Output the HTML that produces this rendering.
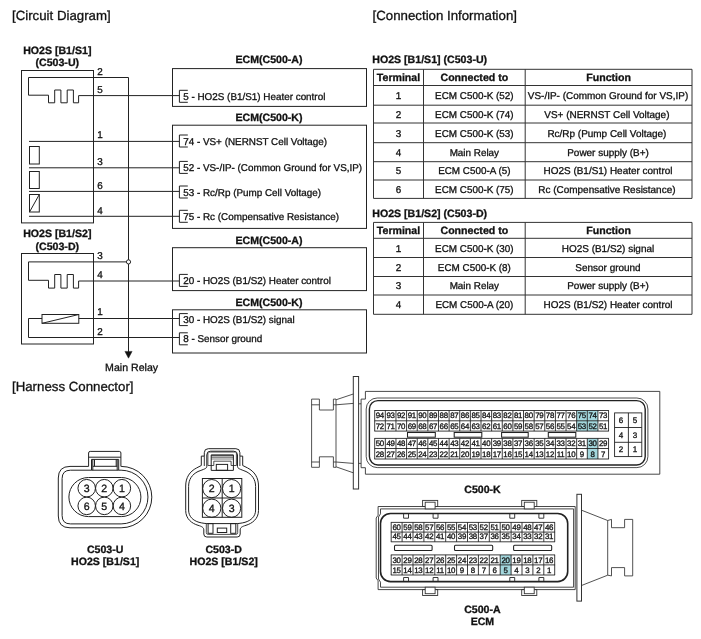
<!DOCTYPE html>
<html><head><meta charset="utf-8"><title>HO2S Circuit</title>
<style>
html,body{margin:0;padding:0;background:#fff;}
svg{display:block;will-change:transform;text-rendering:geometricPrecision;font-family:"Liberation Sans",Arial,sans-serif;fill:#111;}
svg text{stroke:#111;stroke-width:0.3px;}
</style></head><body>
<svg width="701" height="639" viewBox="0 0 701 639">
<rect x="0" y="0" width="701" height="639" fill="#fff" stroke="none"/>
<text x="12" y="20.3" font-size="13.25">[Circuit Diagram]</text>
<text x="372.6" y="20.3" font-size="13.25">[Connection Information]</text>
<text x="12" y="391" font-size="13.25">[Harness Connector]</text>
<text x="57.3" y="53.9" font-size="10.6" font-weight="bold" text-anchor="middle">HO2S [B1/S1]</text>
<text x="57.3" y="66.3" font-size="10.6" font-weight="bold" text-anchor="middle">(C503-U)</text>
<rect x="21.50" y="70.50" width="72.00" height="152.40" fill="none" stroke="#222" stroke-width="1"/>
<path d="M128.5,77.5 H28.5" fill="none" stroke="#222" stroke-width="1"/>
<path d="M28.5,77.5 V95.2 H48.5 V102.8 H54.7 V90 H60.9 V102.8 H67.2 V90 H73.4 V102.8 H78.6 V95.6 H179.4" fill="none" stroke="#222" stroke-width="1"/>
<text x="97.2" y="75.2" font-size="9.88">2</text>
<text x="97.2" y="92.8" font-size="9.88">5</text>
<text x="97.2" y="138" font-size="9.88">1</text>
<text x="97.2" y="164.8" font-size="9.88">3</text>
<text x="97.2" y="188.6" font-size="9.88">6</text>
<text x="97.2" y="213.9" font-size="9.88">4</text>
<line x1="29" y1="141.4" x2="179.5" y2="141.4" stroke="#222" stroke-width="1"/>
<line x1="29" y1="167.8" x2="179.5" y2="167.8" stroke="#222" stroke-width="1"/>
<line x1="29" y1="191.4" x2="179.5" y2="191.4" stroke="#222" stroke-width="1"/>
<line x1="29" y1="216.3" x2="179.5" y2="216.3" stroke="#222" stroke-width="1"/>
<rect x="29.50" y="146.50" width="9.80" height="17.50" fill="none" stroke="#222" stroke-width="1"/>
<rect x="29.50" y="171.50" width="9.80" height="17.00" fill="none" stroke="#222" stroke-width="1"/>
<rect x="29.50" y="194.50" width="9.80" height="17.50" fill="none" stroke="#222" stroke-width="1"/>
<line x1="29.5" y1="212" x2="39.3" y2="194.5" stroke="#222" stroke-width="1"/>
<line x1="128.5" y1="77.5" x2="128.5" y2="352" stroke="#222" stroke-width="1"/>
<path d="M124.9,351.4 H132.1 L128.5,358.2 Z" fill="#111" stroke="#222" stroke-width="0.5"/>
<text x="131.6" y="370.6" font-size="10.6" text-anchor="middle">Main Relay</text>
<text x="57.3" y="237.4" font-size="10.6" font-weight="bold" text-anchor="middle">HO2S [B1/S2]</text>
<text x="57.3" y="249.8" font-size="10.6" font-weight="bold" text-anchor="middle">(C503-D)</text>
<rect x="21.50" y="253.50" width="72.00" height="90.50" fill="none" stroke="#222" stroke-width="1"/>
<path d="M126.5,261.9 H28.5" fill="none" stroke="#222" stroke-width="1"/>
<path d="M28.5,261.9 V280.3 H48.5 V288.1 H54.7 V274.5 H60.9 V288.1 H67.2 V274.5 H73.4 V288.1 H78.6 V281 H179.4" fill="none" stroke="#222" stroke-width="1"/>
<circle cx="128.5" cy="261.9" r="2.1" fill="#fff" stroke="#222" stroke-width="1"/>
<text x="97.2" y="259" font-size="9.88">3</text>
<text x="97.2" y="278" font-size="9.88">4</text>
<text x="97.2" y="315.2" font-size="9.88">1</text>
<text x="97.2" y="334.6" font-size="9.88">2</text>
<rect x="42.00" y="314.50" width="36.80" height="8.80" fill="none" stroke="#222" stroke-width="1"/>
<line x1="42" y1="323.3" x2="78.8" y2="314.5" stroke="#222" stroke-width="1"/>
<path d="M42,318.5 H28.5 V337.5 H179.5" fill="none" stroke="#222" stroke-width="1"/>
<line x1="78.8" y1="318.5" x2="179.5" y2="318.5" stroke="#222" stroke-width="1"/>
<text x="269" y="63" font-size="10.6" font-weight="bold" text-anchor="middle">ECM(C500-A)</text>
<rect x="172.50" y="68.60" width="194.00" height="37.80" fill="none" stroke="#222" stroke-width="1"/>
<path d="M187.8,90.3 H179.4 V102.3 H187.8" fill="none" stroke="#222" stroke-width="1"/>
<text x="183.2" y="99.8" font-size="9.88">5 - HO2S (B1/S1) Heater control</text>
<text x="269" y="121.3" font-size="10.6" font-weight="bold" text-anchor="middle">ECM(C500-K)</text>
<rect x="172.50" y="125.20" width="194.00" height="103.20" fill="none" stroke="#222" stroke-width="1"/>
<path d="M187.8,135 H179.4 V147 H187.8" fill="none" stroke="#222" stroke-width="1"/>
<text x="183.2" y="144.5" font-size="9.88">74 - VS+ (NERNST Cell Voltage)</text>
<path d="M187.8,161.4 H179.4 V173.4 H187.8" fill="none" stroke="#222" stroke-width="1"/>
<text x="183.2" y="170.9" font-size="9.88">52 - VS-/IP- (Common Ground for VS,IP)</text>
<path d="M187.8,186 H179.4 V198 H187.8" fill="none" stroke="#222" stroke-width="1"/>
<text x="183.2" y="195.5" font-size="9.88">53 - Rc/Rp (Pump Cell Voltage)</text>
<path d="M187.8,210.3 H179.4 V222.3 H187.8" fill="none" stroke="#222" stroke-width="1"/>
<text x="183.2" y="219.8" font-size="9.88">75 - Rc (Compensative Resistance)</text>
<text x="269" y="243.6" font-size="10.6" font-weight="bold" text-anchor="middle">ECM(C500-A)</text>
<rect x="172.50" y="247.70" width="194.00" height="42.90" fill="none" stroke="#222" stroke-width="1"/>
<path d="M187.8,274.4 H179.4 V286.4 H187.8" fill="none" stroke="#222" stroke-width="1"/>
<text x="183.2" y="283.9" font-size="9.88">20 - HO2S (B1/S2) Heater control</text>
<text x="269" y="305.8" font-size="10.6" font-weight="bold" text-anchor="middle">ECM(C500-K)</text>
<rect x="172.50" y="309.80" width="194.00" height="43.20" fill="none" stroke="#222" stroke-width="1"/>
<path d="M187.8,313.6 H179.4 V325.6 H187.8" fill="none" stroke="#222" stroke-width="1"/>
<text x="183.2" y="323.1" font-size="9.88">30 - HO2S (B1/S2) signal</text>
<path d="M187.8,332.8 H179.4 V344.8 H187.8" fill="none" stroke="#222" stroke-width="1"/>
<text x="183.2" y="342.3" font-size="9.88">8 - Sensor ground</text>
<text x="372.3" y="62.8" font-size="10.6" font-weight="bold">HO2S [B1/S1] (C503-U)</text>
<line x1="373.5" y1="69.3" x2="692" y2="69.3" stroke="#333" stroke-width="1"/>
<line x1="373.5" y1="85.5" x2="692" y2="85.5" stroke="#333" stroke-width="1"/>
<line x1="373.5" y1="105.2" x2="692" y2="105.2" stroke="#333" stroke-width="1"/>
<line x1="373.5" y1="123" x2="692" y2="123" stroke="#333" stroke-width="1"/>
<line x1="373.5" y1="142.7" x2="692" y2="142.7" stroke="#333" stroke-width="1"/>
<line x1="373.5" y1="161.7" x2="692" y2="161.7" stroke="#333" stroke-width="1"/>
<line x1="373.5" y1="180" x2="692" y2="180" stroke="#333" stroke-width="1"/>
<line x1="373.5" y1="198.4" x2="692" y2="198.4" stroke="#333" stroke-width="1"/>
<line x1="373.5" y1="69.3" x2="373.5" y2="198.4" stroke="#333" stroke-width="1"/>
<line x1="423.5" y1="69.3" x2="423.5" y2="198.4" stroke="#333" stroke-width="1"/>
<line x1="525.2" y1="69.3" x2="525.2" y2="198.4" stroke="#333" stroke-width="1"/>
<line x1="692" y1="69.3" x2="692" y2="198.4" stroke="#333" stroke-width="1"/>
<text x="398.5" y="81.2" font-size="10.6" font-weight="bold" text-anchor="middle">Terminal</text>
<text x="474.35" y="81.2" font-size="10.6" font-weight="bold" text-anchor="middle">Connected to</text>
<text x="608.6" y="81.2" font-size="10.6" font-weight="bold" text-anchor="middle">Function</text>
<text x="398.5" y="98.55" font-size="9.88" text-anchor="middle">1</text>
<text x="474.35" y="98.55" font-size="9.88" text-anchor="middle">ECM C500-K (52)</text>
<text x="608.0" y="98.55" font-size="9.96" text-anchor="middle">VS-/IP- (Common Ground for VS,IP)</text>
<text x="398.5" y="117.7" font-size="9.88" text-anchor="middle">2</text>
<text x="474.35" y="117.7" font-size="9.88" text-anchor="middle">ECM C500-K (74)</text>
<text x="606.9" y="117.7" font-size="9.96" text-anchor="middle">VS+ (NERNST Cell Voltage)</text>
<text x="398.5" y="137.15" font-size="9.88" text-anchor="middle">3</text>
<text x="474.35" y="137.15" font-size="9.88" text-anchor="middle">ECM C500-K (53)</text>
<text x="606.9" y="137.15" font-size="9.96" text-anchor="middle">Rc/Rp (Pump Cell Voltage)</text>
<text x="398.5" y="155.8" font-size="9.88" text-anchor="middle">4</text>
<text x="474.35" y="155.8" font-size="9.88" text-anchor="middle">Main Relay</text>
<text x="608.0" y="155.8" font-size="9.96" text-anchor="middle">Power supply (B+)</text>
<text x="398.5" y="174.45" font-size="9.88" text-anchor="middle">5</text>
<text x="474.35" y="174.45" font-size="9.88" text-anchor="middle">ECM C500-A (5)</text>
<text x="608.0" y="174.45" font-size="9.96" text-anchor="middle">HO2S (B1/S1) Heater control</text>
<text x="398.5" y="192.8" font-size="9.88" text-anchor="middle">6</text>
<text x="474.35" y="192.8" font-size="9.88" text-anchor="middle">ECM C500-K (75)</text>
<text x="606.9" y="192.8" font-size="9.96" text-anchor="middle">Rc (Compensative Resistance)</text>
<text x="372.3" y="217.1" font-size="10.6" font-weight="bold">HO2S [B1/S2] (C503-D)</text>
<line x1="373.5" y1="222.4" x2="692" y2="222.4" stroke="#333" stroke-width="1"/>
<line x1="373.5" y1="238.3" x2="692" y2="238.3" stroke="#333" stroke-width="1"/>
<line x1="373.5" y1="257.5" x2="692" y2="257.5" stroke="#333" stroke-width="1"/>
<line x1="373.5" y1="276.5" x2="692" y2="276.5" stroke="#333" stroke-width="1"/>
<line x1="373.5" y1="295" x2="692" y2="295" stroke="#333" stroke-width="1"/>
<line x1="373.5" y1="314.3" x2="692" y2="314.3" stroke="#333" stroke-width="1"/>
<line x1="373.5" y1="222.4" x2="373.5" y2="314.3" stroke="#333" stroke-width="1"/>
<line x1="423.5" y1="222.4" x2="423.5" y2="314.3" stroke="#333" stroke-width="1"/>
<line x1="525.2" y1="222.4" x2="525.2" y2="314.3" stroke="#333" stroke-width="1"/>
<line x1="692" y1="222.4" x2="692" y2="314.3" stroke="#333" stroke-width="1"/>
<text x="398.5" y="234.15000000000003" font-size="10.6" font-weight="bold" text-anchor="middle">Terminal</text>
<text x="474.35" y="234.15000000000003" font-size="10.6" font-weight="bold" text-anchor="middle">Connected to</text>
<text x="608.6" y="234.15000000000003" font-size="10.6" font-weight="bold" text-anchor="middle">Function</text>
<text x="398.5" y="251.5" font-size="9.88" text-anchor="middle">1</text>
<text x="474.35" y="251.5" font-size="9.88" text-anchor="middle">ECM C500-K (30)</text>
<text x="608.0" y="251.5" font-size="9.96" text-anchor="middle">HO2S (B1/S2) signal</text>
<text x="398.5" y="270.6" font-size="9.88" text-anchor="middle">2</text>
<text x="474.35" y="270.6" font-size="9.88" text-anchor="middle">ECM C500-K (8)</text>
<text x="608.0" y="270.6" font-size="9.96" text-anchor="middle">Sensor ground</text>
<text x="398.5" y="289.35" font-size="9.88" text-anchor="middle">3</text>
<text x="474.35" y="289.35" font-size="9.88" text-anchor="middle">Main Relay</text>
<text x="608.0" y="289.35" font-size="9.96" text-anchor="middle">Power supply (B+)</text>
<text x="398.5" y="308.25" font-size="9.88" text-anchor="middle">4</text>
<text x="474.35" y="308.25" font-size="9.88" text-anchor="middle">ECM C500-A (20)</text>
<text x="608.0" y="308.25" font-size="9.96" text-anchor="middle">HO2S (B1/S2) Heater control</text>
<path d="M70,466.4 H88.6 V453 Q88.6,451.4 90.2,451.4 H119.3 Q120.9,451.4 120.9,453 V466.4 H121.1 A30.7,30.7 0 0 1 121.1,527.8 H70 Q58.3,527.8 58.3,516 V478 Q58.3,466.4 70,466.4 Z" fill="none" stroke="#222" stroke-width="1"/>
<path d="M91.5,470.2 H70.5 Q62.1,470.2 62.1,478.6 V515.5 Q62.1,523.9 70.5,523.9 H121.1 A26.85,26.85 0 0 0 121.1,470.2 H118.7" fill="none" stroke="#222" stroke-width="1"/>
<line x1="88.6" y1="457.2" x2="120.9" y2="457.2" stroke="#222" stroke-width="1"/>
<path d="M91.5,470.2 V459.4 H118.7 V470.2 Z" fill="none" stroke="#222" stroke-width="1"/>
<path d="M92.8,470.2 V459.4 M117.2,459.4 V470.2" fill="none" stroke="#222" stroke-width="1"/>
<path d="M94.5,459.5 V466.3 M116.2,459.5 V466.3 M92.8,466.3 H117.2" fill="none" stroke="#222" stroke-width="1"/>
<rect x="68.90" y="477.50" width="72.00" height="39.10" fill="none" stroke="#222" stroke-width="1" rx="19.55"/>
<circle cx="86.7" cy="488.2" r="8.75" fill="none" stroke="#222" stroke-width="1"/>
<circle cx="86.7" cy="505.9" r="8.75" fill="none" stroke="#222" stroke-width="1"/>
<text x="86.7" y="492" font-size="10.6" text-anchor="middle">3</text>
<text x="86.7" y="509.7" font-size="10.6" text-anchor="middle">6</text>
<circle cx="104.30000000000001" cy="488.2" r="8.75" fill="none" stroke="#222" stroke-width="1"/>
<circle cx="104.30000000000001" cy="505.9" r="8.75" fill="none" stroke="#222" stroke-width="1"/>
<text x="104.30000000000001" y="492" font-size="10.6" text-anchor="middle">2</text>
<text x="104.30000000000001" y="509.7" font-size="10.6" text-anchor="middle">5</text>
<circle cx="121.9" cy="488.2" r="8.75" fill="none" stroke="#222" stroke-width="1"/>
<circle cx="121.9" cy="505.9" r="8.75" fill="none" stroke="#222" stroke-width="1"/>
<text x="121.9" y="492" font-size="10.6" text-anchor="middle">1</text>
<text x="121.9" y="509.7" font-size="10.6" text-anchor="middle">4</text>
<text x="105.2" y="552.8" font-size="10.6" font-weight="bold" text-anchor="middle">C503-U</text>
<text x="105.2" y="565.4" font-size="10.6" font-weight="bold" text-anchor="middle">HO2S [B1/S1]</text>
<path d="M204.3,452.7 Q204.3,448.7 208.3,448.7 H235.9 Q239.9,448.7 239.9,452.7 V456.1 H242.7 V465.5 L247.5,467.9 C254.5,471.5 258.5,477.5 258.5,486 V510.5 C258.5,519 252,523.5 246,525.3 C242,526.5 240.2,527.5 240.2,530 V534 Q240.2,537 237.2,537 H206.8 Q203.8,537 203.8,534 V530 C203.8,527.5 202,526.5 198,525.3 C192,523.5 185.7,519 185.7,510.5 V486 C185.7,477.5 189.7,471.5 196.7,467.9 L201.3,465.5 V456.1 H204.3 Z" fill="none" stroke="#222" stroke-width="1"/>
<path d="M206.8,455 Q206.8,451.2 210.5,451.2 H233.7 Q237.5,451.2 237.5,455 V466.5 C237.5,468.5 240,469.2 246,471.5 C252,474.5 255.6,479.5 255.6,486.5 V510 C255.6,516.5 251,520.5 245,522.3 C241,523.3 238.5,523.6 236,523.6 H208 C205.5,523.6 203,523.3 199,522.3 C193,520.5 188.6,516.5 188.6,510 V486.5 C188.6,479.5 192,474.5 198,471.5 C204,469.2 206.8,468.5 206.8,466.5 Z" fill="none" stroke="#222" stroke-width="1"/>
<path d="M208.5,452 H235.8" fill="none" stroke="#222" stroke-width="0.8"/>
<path d="M204.3,456.1 V466 M239.9,456.1 V466" fill="none" stroke="#222" stroke-width="0.9"/>
<path d="M207.9,453 V465.5 H213.8 V461.2 H231.1 V465.5 H236.4 V453" fill="none" stroke="#222" stroke-width="0.8"/>
<path d="M211.2,470.4 V454.9 H233.4 V470.4 Z" fill="none" stroke="#222" stroke-width="1"/>
<path d="M211.2,455.8 H233.4" fill="none" stroke="#222" stroke-width="1"/>
<path d="M211.2,457.4 H233.4 M211.2,459 H233.4" fill="none" stroke="#222" stroke-width="0.6"/>
<rect x="216.30" y="464.40" width="11.30" height="5.90" fill="none" stroke="#222" stroke-width="1"/>
<rect x="208.10" y="523.60" width="4.90" height="9.70" fill="none" stroke="#222" stroke-width="1"/>
<rect x="230.70" y="523.60" width="5.10" height="9.70" fill="none" stroke="#222" stroke-width="1"/>
<path d="M206.3,524 V532.5 Q206.3,534.4 208.1,534.4 H235.9 Q237.7,534.4 237.7,532.5 V524" fill="none" stroke="#222" stroke-width="0.8"/>
<rect x="217.30" y="528.10" width="9.40" height="4.40" fill="none" stroke="#222" stroke-width="1"/>
<rect x="202.40" y="478.50" width="39.40" height="38.80" fill="none" stroke="#222" stroke-width="1"/>
<line x1="222.2" y1="478.5" x2="222.2" y2="517.3" stroke="#222" stroke-width="1"/>
<line x1="202.4" y1="498" x2="241.8" y2="498" stroke="#222" stroke-width="1"/>
<circle cx="211.8" cy="488.6" r="9.1" fill="none" stroke="#222" stroke-width="1"/>
<text x="211.8" y="492.40000000000003" font-size="10.6" text-anchor="middle">2</text>
<circle cx="231.6" cy="488.6" r="9.1" fill="none" stroke="#222" stroke-width="1"/>
<text x="231.6" y="492.40000000000003" font-size="10.6" text-anchor="middle">1</text>
<circle cx="211.8" cy="508.2" r="9.1" fill="none" stroke="#222" stroke-width="1"/>
<text x="211.8" y="512.0" font-size="10.6" text-anchor="middle">4</text>
<circle cx="231.6" cy="508.2" r="9.1" fill="none" stroke="#222" stroke-width="1"/>
<text x="231.6" y="512.0" font-size="10.6" text-anchor="middle">3</text>
<text x="223.7" y="552.8" font-size="10.6" font-weight="bold" text-anchor="middle">C503-D</text>
<text x="223.7" y="565.4" font-size="10.6" font-weight="bold" text-anchor="middle">HO2S [B1/S2]</text>
<rect x="353.30" y="376.50" width="5.30" height="112.50" fill="none" stroke="#333" stroke-width="1"/>
<path d="M311.6,399.1 H319.4 V410 H333.4 V399.1 H336 V404.8 L353.3,403.4 M336,399.8 L353.3,394 M311.6,399.1 V467.3 H319.4 V456.8 H333.4 V467.3 H336 V462 L353.3,463.4 M336,466.8 L353.3,472.8 M311.6,404.8 H319.4 M311.6,462 H319.4 M333.4,404.8 H336 M333.4,462 H336 M336,404.8 V462" fill="none" stroke="#333" stroke-width="0.85"/>
<path d="M358.6,403.8 H361.1 M358.6,463.4 H361.1" fill="none" stroke="#333" stroke-width="0.85"/>
<path d="M365.4,391.4 H659.8 V474.2 H365.4 V467.7 H361.1 V399.1 H365.4 Z" fill="none" stroke="#333" stroke-width="0.9"/>
<rect x="366.20" y="398.00" width="281.70" height="69.60" fill="none" stroke="#222" stroke-width="0.8" rx="11"/>
<rect x="369.40" y="400.60" width="275.80" height="64.40" fill="none" stroke="#222" stroke-width="1.4" rx="8.5"/>
<rect x="576.67" y="410.5" width="10.63" height="10.30" fill="#a3d7dd" stroke="none"/>
<rect x="587.30" y="410.5" width="10.63" height="10.30" fill="#a3d7dd" stroke="none"/>
<rect x="576.67" y="420.8" width="10.63" height="10.30" fill="#a3d7dd" stroke="none"/>
<rect x="587.30" y="420.8" width="10.63" height="10.30" fill="#a3d7dd" stroke="none"/>
<rect x="587.30" y="438.4" width="10.63" height="10.10" fill="#a3d7dd" stroke="none"/>
<rect x="587.30" y="448.5" width="10.63" height="10.50" fill="#a3d7dd" stroke="none"/>
<path d="M374.70,410.5 V420.8 M385.33,410.5 V420.8 M395.96,410.5 V420.8 M406.59,410.5 V420.8 M417.22,410.5 V420.8 M427.85,410.5 V420.8 M438.48,410.5 V420.8 M449.11,410.5 V420.8 M459.74,410.5 V420.8 M470.37,410.5 V420.8 M481.00,410.5 V420.8 M491.63,410.5 V420.8 M502.26,410.5 V420.8 M512.89,410.5 V420.8 M523.52,410.5 V420.8 M534.15,410.5 V420.8 M544.78,410.5 V420.8 M555.41,410.5 V420.8 M566.04,410.5 V420.8 M576.67,410.5 V420.8 M587.30,410.5 V420.8 M597.93,410.5 V420.8 M608.56,410.5 V420.8 M374.70,420.8 V431.1 M385.33,420.8 V431.1 M395.96,420.8 V431.1 M406.59,420.8 V431.1 M417.22,420.8 V431.1 M427.85,420.8 V431.1 M438.48,420.8 V431.1 M449.11,420.8 V431.1 M459.74,420.8 V431.1 M470.37,420.8 V431.1 M481.00,420.8 V431.1 M491.63,420.8 V431.1 M502.26,420.8 V431.1 M512.89,420.8 V431.1 M523.52,420.8 V431.1 M534.15,420.8 V431.1 M544.78,420.8 V431.1 M555.41,420.8 V431.1 M566.04,420.8 V431.1 M576.67,420.8 V431.1 M587.30,420.8 V431.1 M597.93,420.8 V431.1 M608.56,420.8 V431.1 M374.70,438.4 V448.5 M385.33,438.4 V448.5 M395.96,438.4 V448.5 M406.59,438.4 V448.5 M417.22,438.4 V448.5 M427.85,438.4 V448.5 M438.48,438.4 V448.5 M449.11,438.4 V448.5 M459.74,438.4 V448.5 M470.37,438.4 V448.5 M481.00,438.4 V448.5 M491.63,438.4 V448.5 M502.26,438.4 V448.5 M512.89,438.4 V448.5 M523.52,438.4 V448.5 M534.15,438.4 V448.5 M544.78,438.4 V448.5 M555.41,438.4 V448.5 M566.04,438.4 V448.5 M576.67,438.4 V448.5 M587.30,438.4 V448.5 M597.93,438.4 V448.5 M608.56,438.4 V448.5 M374.70,448.5 V459 M385.33,448.5 V459 M395.96,448.5 V459 M406.59,448.5 V459 M417.22,448.5 V459 M427.85,448.5 V459 M438.48,448.5 V459 M449.11,448.5 V459 M459.74,448.5 V459 M470.37,448.5 V459 M481.00,448.5 V459 M491.63,448.5 V459 M502.26,448.5 V459 M512.89,448.5 V459 M523.52,448.5 V459 M534.15,448.5 V459 M544.78,448.5 V459 M555.41,448.5 V459 M566.04,448.5 V459 M576.67,448.5 V459 M587.30,448.5 V459 M597.93,448.5 V459 M608.56,448.5 V459 M374.35,410.5 H608.91 M374.35,420.8 H608.91 M374.35,431.1 H608.91 M374.35,438.4 H608.91 M374.35,448.5 H608.91 M374.35,459 H608.91 " fill="none" stroke="#1a1a1a" stroke-width="0.85"/>
<text x="379.87" y="418.4" font-size="7.9" text-anchor="middle" letter-spacing="-0.3">94</text>
<text x="390.5" y="418.4" font-size="7.9" text-anchor="middle" letter-spacing="-0.3">93</text>
<text x="401.12" y="418.4" font-size="7.9" text-anchor="middle" letter-spacing="-0.3">92</text>
<text x="411.75" y="418.4" font-size="7.9" text-anchor="middle" letter-spacing="-0.3">91</text>
<text x="422.38" y="418.4" font-size="7.9" text-anchor="middle" letter-spacing="-0.3">90</text>
<text x="433.02" y="418.4" font-size="7.9" text-anchor="middle" letter-spacing="-0.3">89</text>
<text x="443.65" y="418.4" font-size="7.9" text-anchor="middle" letter-spacing="-0.3">88</text>
<text x="454.28" y="418.4" font-size="7.9" text-anchor="middle" letter-spacing="-0.3">87</text>
<text x="464.91" y="418.4" font-size="7.9" text-anchor="middle" letter-spacing="-0.3">86</text>
<text x="475.54" y="418.4" font-size="7.9" text-anchor="middle" letter-spacing="-0.3">85</text>
<text x="486.17" y="418.4" font-size="7.9" text-anchor="middle" letter-spacing="-0.3">84</text>
<text x="496.8" y="418.4" font-size="7.9" text-anchor="middle" letter-spacing="-0.3">83</text>
<text x="507.43" y="418.4" font-size="7.9" text-anchor="middle" letter-spacing="-0.3">82</text>
<text x="518.06" y="418.4" font-size="7.9" text-anchor="middle" letter-spacing="-0.3">81</text>
<text x="528.69" y="418.4" font-size="7.9" text-anchor="middle" letter-spacing="-0.3">80</text>
<text x="539.32" y="418.4" font-size="7.9" text-anchor="middle" letter-spacing="-0.3">79</text>
<text x="549.95" y="418.4" font-size="7.9" text-anchor="middle" letter-spacing="-0.3">78</text>
<text x="560.58" y="418.4" font-size="7.9" text-anchor="middle" letter-spacing="-0.3">77</text>
<text x="571.21" y="418.4" font-size="7.9" text-anchor="middle" letter-spacing="-0.3">76</text>
<text x="581.84" y="418.4" font-size="7.9" text-anchor="middle" letter-spacing="-0.3">75</text>
<text x="592.47" y="418.4" font-size="7.9" text-anchor="middle" letter-spacing="-0.3">74</text>
<text x="603.1" y="418.4" font-size="7.9" text-anchor="middle" letter-spacing="-0.3">73</text>
<text x="379.87" y="428.7" font-size="7.9" text-anchor="middle" letter-spacing="-0.3">72</text>
<text x="390.5" y="428.7" font-size="7.9" text-anchor="middle" letter-spacing="-0.3">71</text>
<text x="401.12" y="428.7" font-size="7.9" text-anchor="middle" letter-spacing="-0.3">70</text>
<text x="411.75" y="428.7" font-size="7.9" text-anchor="middle" letter-spacing="-0.3">69</text>
<text x="422.38" y="428.7" font-size="7.9" text-anchor="middle" letter-spacing="-0.3">68</text>
<text x="433.02" y="428.7" font-size="7.9" text-anchor="middle" letter-spacing="-0.3">67</text>
<text x="443.65" y="428.7" font-size="7.9" text-anchor="middle" letter-spacing="-0.3">66</text>
<text x="454.28" y="428.7" font-size="7.9" text-anchor="middle" letter-spacing="-0.3">65</text>
<text x="464.91" y="428.7" font-size="7.9" text-anchor="middle" letter-spacing="-0.3">64</text>
<text x="475.54" y="428.7" font-size="7.9" text-anchor="middle" letter-spacing="-0.3">63</text>
<text x="486.17" y="428.7" font-size="7.9" text-anchor="middle" letter-spacing="-0.3">62</text>
<text x="496.8" y="428.7" font-size="7.9" text-anchor="middle" letter-spacing="-0.3">61</text>
<text x="507.43" y="428.7" font-size="7.9" text-anchor="middle" letter-spacing="-0.3">60</text>
<text x="518.06" y="428.7" font-size="7.9" text-anchor="middle" letter-spacing="-0.3">59</text>
<text x="528.69" y="428.7" font-size="7.9" text-anchor="middle" letter-spacing="-0.3">58</text>
<text x="539.32" y="428.7" font-size="7.9" text-anchor="middle" letter-spacing="-0.3">57</text>
<text x="549.95" y="428.7" font-size="7.9" text-anchor="middle" letter-spacing="-0.3">56</text>
<text x="560.58" y="428.7" font-size="7.9" text-anchor="middle" letter-spacing="-0.3">55</text>
<text x="571.21" y="428.7" font-size="7.9" text-anchor="middle" letter-spacing="-0.3">54</text>
<text x="581.84" y="428.7" font-size="7.9" text-anchor="middle" letter-spacing="-0.3">53</text>
<text x="592.47" y="428.7" font-size="7.9" text-anchor="middle" letter-spacing="-0.3">52</text>
<text x="603.1" y="428.7" font-size="7.9" text-anchor="middle" letter-spacing="-0.3">51</text>
<text x="379.87" y="446.1" font-size="7.9" text-anchor="middle" letter-spacing="-0.3">50</text>
<text x="390.5" y="446.1" font-size="7.9" text-anchor="middle" letter-spacing="-0.3">49</text>
<text x="401.12" y="446.1" font-size="7.9" text-anchor="middle" letter-spacing="-0.3">48</text>
<text x="411.75" y="446.1" font-size="7.9" text-anchor="middle" letter-spacing="-0.3">47</text>
<text x="422.38" y="446.1" font-size="7.9" text-anchor="middle" letter-spacing="-0.3">46</text>
<text x="433.02" y="446.1" font-size="7.9" text-anchor="middle" letter-spacing="-0.3">45</text>
<text x="443.65" y="446.1" font-size="7.9" text-anchor="middle" letter-spacing="-0.3">44</text>
<text x="454.28" y="446.1" font-size="7.9" text-anchor="middle" letter-spacing="-0.3">43</text>
<text x="464.91" y="446.1" font-size="7.9" text-anchor="middle" letter-spacing="-0.3">42</text>
<text x="475.54" y="446.1" font-size="7.9" text-anchor="middle" letter-spacing="-0.3">41</text>
<text x="486.17" y="446.1" font-size="7.9" text-anchor="middle" letter-spacing="-0.3">40</text>
<text x="496.8" y="446.1" font-size="7.9" text-anchor="middle" letter-spacing="-0.3">39</text>
<text x="507.43" y="446.1" font-size="7.9" text-anchor="middle" letter-spacing="-0.3">38</text>
<text x="518.06" y="446.1" font-size="7.9" text-anchor="middle" letter-spacing="-0.3">37</text>
<text x="528.69" y="446.1" font-size="7.9" text-anchor="middle" letter-spacing="-0.3">36</text>
<text x="539.32" y="446.1" font-size="7.9" text-anchor="middle" letter-spacing="-0.3">35</text>
<text x="549.95" y="446.1" font-size="7.9" text-anchor="middle" letter-spacing="-0.3">34</text>
<text x="560.58" y="446.1" font-size="7.9" text-anchor="middle" letter-spacing="-0.3">33</text>
<text x="571.21" y="446.1" font-size="7.9" text-anchor="middle" letter-spacing="-0.3">32</text>
<text x="581.84" y="446.1" font-size="7.9" text-anchor="middle" letter-spacing="-0.3">31</text>
<text x="592.47" y="446.1" font-size="7.9" text-anchor="middle" letter-spacing="-0.3">30</text>
<text x="603.1" y="446.1" font-size="7.9" text-anchor="middle" letter-spacing="-0.3">29</text>
<text x="379.87" y="456.6" font-size="7.9" text-anchor="middle" letter-spacing="-0.3">28</text>
<text x="390.5" y="456.6" font-size="7.9" text-anchor="middle" letter-spacing="-0.3">27</text>
<text x="401.12" y="456.6" font-size="7.9" text-anchor="middle" letter-spacing="-0.3">26</text>
<text x="411.75" y="456.6" font-size="7.9" text-anchor="middle" letter-spacing="-0.3">25</text>
<text x="422.38" y="456.6" font-size="7.9" text-anchor="middle" letter-spacing="-0.3">24</text>
<text x="433.02" y="456.6" font-size="7.9" text-anchor="middle" letter-spacing="-0.3">23</text>
<text x="443.65" y="456.6" font-size="7.9" text-anchor="middle" letter-spacing="-0.3">22</text>
<text x="454.28" y="456.6" font-size="7.9" text-anchor="middle" letter-spacing="-0.3">21</text>
<text x="464.91" y="456.6" font-size="7.9" text-anchor="middle" letter-spacing="-0.3">20</text>
<text x="475.54" y="456.6" font-size="7.9" text-anchor="middle" letter-spacing="-0.3">19</text>
<text x="486.17" y="456.6" font-size="7.9" text-anchor="middle" letter-spacing="-0.3">18</text>
<text x="496.8" y="456.6" font-size="7.9" text-anchor="middle" letter-spacing="-0.3">17</text>
<text x="507.43" y="456.6" font-size="7.9" text-anchor="middle" letter-spacing="-0.3">16</text>
<text x="518.06" y="456.6" font-size="7.9" text-anchor="middle" letter-spacing="-0.3">15</text>
<text x="528.69" y="456.6" font-size="7.9" text-anchor="middle" letter-spacing="-0.3">14</text>
<text x="539.32" y="456.6" font-size="7.9" text-anchor="middle" letter-spacing="-0.3">13</text>
<text x="549.95" y="456.6" font-size="7.9" text-anchor="middle" letter-spacing="-0.3">12</text>
<text x="560.58" y="456.6" font-size="7.9" text-anchor="middle" letter-spacing="-0.3">11</text>
<text x="571.21" y="456.6" font-size="7.9" text-anchor="middle" letter-spacing="-0.3">10</text>
<text x="581.99" y="456.6" font-size="7.9" text-anchor="middle">9</text>
<text x="592.62" y="456.6" font-size="7.9" text-anchor="middle">8</text>
<text x="603.25" y="456.6" font-size="7.9" text-anchor="middle">7</text>
<rect x="407.50" y="432.50" width="27.80" height="4.70" fill="#fff" stroke="#222" stroke-width="1.05"/>
<rect x="454.20" y="432.50" width="27.60" height="4.70" fill="#fff" stroke="#222" stroke-width="1.05"/>
<rect x="501.60" y="432.50" width="26.60" height="4.70" fill="#fff" stroke="#222" stroke-width="1.05"/>
<rect x="548.30" y="432.50" width="27.50" height="4.70" fill="#fff" stroke="#222" stroke-width="1.05"/>
<rect x="614.60" y="412.90" width="27.20" height="43.70" fill="none" stroke="#222" stroke-width="0.9"/>
<path d="M628.4,412.9 V456.6 M614.6,427.5 H641.8 M614.6,442.3 H641.8" fill="none" stroke="#222" stroke-width="0.9"/>
<text x="620.9" y="423.0" font-size="8" text-anchor="middle">6</text>
<text x="634.9" y="423.0" font-size="8" text-anchor="middle">5</text>
<text x="620.9" y="438.0" font-size="8" text-anchor="middle">4</text>
<text x="634.9" y="438.0" font-size="8" text-anchor="middle">3</text>
<text x="620.9" y="452.4" font-size="8" text-anchor="middle">2</text>
<text x="634.9" y="452.4" font-size="8" text-anchor="middle">1</text>
<text x="482.5" y="492.9" font-size="10.6" font-weight="bold" text-anchor="middle">C500-K</text>
<rect x="422.60" y="500.40" width="15.10" height="6.10" fill="none" stroke="#333" stroke-width="0.9"/>
<rect x="422.60" y="589.60" width="15.10" height="5.90" fill="none" stroke="#333" stroke-width="0.9"/>
<rect x="521.70" y="500.40" width="15.10" height="6.10" fill="none" stroke="#333" stroke-width="0.9"/>
<rect x="521.70" y="589.60" width="15.10" height="5.90" fill="none" stroke="#333" stroke-width="0.9"/>
<path d="M378.1,515.2 V506.5 H575.2 V589.6 H378.1 V580.8 L376.2,578 V518 Z" fill="none" stroke="#333" stroke-width="0.9"/>
<path d="M380.5,513.8 V508.9 H573.6 V587.2 H380.5 V582.2 L378.5,579 V517 Z" fill="none" stroke="#333" stroke-width="0.9"/>
<rect x="425.20" y="502.20" width="9.90" height="6.70" fill="#fff" stroke="#333" stroke-width="0.9"/>
<rect x="425.20" y="587.20" width="9.90" height="6.50" fill="#fff" stroke="#333" stroke-width="0.9"/>
<rect x="524.30" y="502.20" width="9.90" height="6.70" fill="#fff" stroke="#333" stroke-width="0.9"/>
<rect x="524.30" y="587.20" width="9.90" height="6.50" fill="#fff" stroke="#333" stroke-width="0.9"/>
<rect x="380.50" y="513.50" width="187.20" height="68.10" fill="none" stroke="#222" stroke-width="1.6" rx="10"/>
<path d="M403.6,513.5 V518.2 H408.5 V513.5" fill="none" stroke="#222" stroke-width="0.9"/>
<path d="M403.6,581.6 V577.5 H408.5 V581.6" fill="none" stroke="#222" stroke-width="0.9"/>
<path d="M433.1,513.5 V518.2 H438.0 V513.5" fill="none" stroke="#222" stroke-width="0.9"/>
<path d="M433.1,581.6 V577.5 H438.0 V581.6" fill="none" stroke="#222" stroke-width="0.9"/>
<path d="M509.8,513.5 V518.2 H514.7 V513.5" fill="none" stroke="#222" stroke-width="0.9"/>
<path d="M509.8,581.6 V577.5 H514.7 V581.6" fill="none" stroke="#222" stroke-width="0.9"/>
<path d="M538.9,513.5 V518.2 H543.8 V513.5" fill="none" stroke="#222" stroke-width="0.9"/>
<path d="M538.9,581.6 V577.5 H543.8 V581.6" fill="none" stroke="#222" stroke-width="0.9"/>
<rect x="500.20" y="554.9" width="10.90" height="10.00" fill="#a3d7dd" stroke="none"/>
<rect x="500.20" y="564.9" width="10.90" height="10.10" fill="#a3d7dd" stroke="none"/>
<path d="M391.20,522.4 V532.1 M402.10,522.4 V532.1 M413.00,522.4 V532.1 M423.90,522.4 V532.1 M434.80,522.4 V532.1 M445.70,522.4 V532.1 M456.60,522.4 V532.1 M467.50,522.4 V532.1 M478.40,522.4 V532.1 M489.30,522.4 V532.1 M500.20,522.4 V532.1 M511.10,522.4 V532.1 M522.00,522.4 V532.1 M532.90,522.4 V532.1 M543.80,522.4 V532.1 M554.70,522.4 V532.1 M391.20,532.1 V541.8 M402.10,532.1 V541.8 M413.00,532.1 V541.8 M423.90,532.1 V541.8 M434.80,532.1 V541.8 M445.70,532.1 V541.8 M456.60,532.1 V541.8 M467.50,532.1 V541.8 M478.40,532.1 V541.8 M489.30,532.1 V541.8 M500.20,532.1 V541.8 M511.10,532.1 V541.8 M522.00,532.1 V541.8 M532.90,532.1 V541.8 M543.80,532.1 V541.8 M554.70,532.1 V541.8 M391.20,554.9 V564.9 M402.10,554.9 V564.9 M413.00,554.9 V564.9 M423.90,554.9 V564.9 M434.80,554.9 V564.9 M445.70,554.9 V564.9 M456.60,554.9 V564.9 M467.50,554.9 V564.9 M478.40,554.9 V564.9 M489.30,554.9 V564.9 M500.20,554.9 V564.9 M511.10,554.9 V564.9 M522.00,554.9 V564.9 M532.90,554.9 V564.9 M543.80,554.9 V564.9 M554.70,554.9 V564.9 M391.20,564.9 V575 M402.10,564.9 V575 M413.00,564.9 V575 M423.90,564.9 V575 M434.80,564.9 V575 M445.70,564.9 V575 M456.60,564.9 V575 M467.50,564.9 V575 M478.40,564.9 V575 M489.30,564.9 V575 M500.20,564.9 V575 M511.10,564.9 V575 M522.00,564.9 V575 M532.90,564.9 V575 M543.80,564.9 V575 M554.70,564.9 V575 M390.85,522.4 H555.05 M390.85,532.1 H555.05 M390.85,541.8 H555.05 M390.85,554.9 H555.05 M390.85,564.9 H555.05 M390.85,575 H555.05 " fill="none" stroke="#1a1a1a" stroke-width="0.85"/>
<text x="396.5" y="529.7" font-size="7.9" text-anchor="middle" letter-spacing="-0.3">60</text>
<text x="407.4" y="529.7" font-size="7.9" text-anchor="middle" letter-spacing="-0.3">59</text>
<text x="418.3" y="529.7" font-size="7.9" text-anchor="middle" letter-spacing="-0.3">58</text>
<text x="429.2" y="529.7" font-size="7.9" text-anchor="middle" letter-spacing="-0.3">57</text>
<text x="440.1" y="529.7" font-size="7.9" text-anchor="middle" letter-spacing="-0.3">56</text>
<text x="451.0" y="529.7" font-size="7.9" text-anchor="middle" letter-spacing="-0.3">55</text>
<text x="461.9" y="529.7" font-size="7.9" text-anchor="middle" letter-spacing="-0.3">54</text>
<text x="472.8" y="529.7" font-size="7.9" text-anchor="middle" letter-spacing="-0.3">53</text>
<text x="483.7" y="529.7" font-size="7.9" text-anchor="middle" letter-spacing="-0.3">52</text>
<text x="494.6" y="529.7" font-size="7.9" text-anchor="middle" letter-spacing="-0.3">51</text>
<text x="505.5" y="529.7" font-size="7.9" text-anchor="middle" letter-spacing="-0.3">50</text>
<text x="516.4" y="529.7" font-size="7.9" text-anchor="middle" letter-spacing="-0.3">49</text>
<text x="527.3" y="529.7" font-size="7.9" text-anchor="middle" letter-spacing="-0.3">48</text>
<text x="538.2" y="529.7" font-size="7.9" text-anchor="middle" letter-spacing="-0.3">47</text>
<text x="549.1" y="529.7" font-size="7.9" text-anchor="middle" letter-spacing="-0.3">46</text>
<text x="396.5" y="539.4" font-size="7.9" text-anchor="middle" letter-spacing="-0.3">45</text>
<text x="407.4" y="539.4" font-size="7.9" text-anchor="middle" letter-spacing="-0.3">44</text>
<text x="418.3" y="539.4" font-size="7.9" text-anchor="middle" letter-spacing="-0.3">43</text>
<text x="429.2" y="539.4" font-size="7.9" text-anchor="middle" letter-spacing="-0.3">42</text>
<text x="440.1" y="539.4" font-size="7.9" text-anchor="middle" letter-spacing="-0.3">41</text>
<text x="451.0" y="539.4" font-size="7.9" text-anchor="middle" letter-spacing="-0.3">40</text>
<text x="461.9" y="539.4" font-size="7.9" text-anchor="middle" letter-spacing="-0.3">39</text>
<text x="472.8" y="539.4" font-size="7.9" text-anchor="middle" letter-spacing="-0.3">38</text>
<text x="483.7" y="539.4" font-size="7.9" text-anchor="middle" letter-spacing="-0.3">37</text>
<text x="494.6" y="539.4" font-size="7.9" text-anchor="middle" letter-spacing="-0.3">36</text>
<text x="505.5" y="539.4" font-size="7.9" text-anchor="middle" letter-spacing="-0.3">35</text>
<text x="516.4" y="539.4" font-size="7.9" text-anchor="middle" letter-spacing="-0.3">34</text>
<text x="527.3" y="539.4" font-size="7.9" text-anchor="middle" letter-spacing="-0.3">33</text>
<text x="538.2" y="539.4" font-size="7.9" text-anchor="middle" letter-spacing="-0.3">32</text>
<text x="549.1" y="539.4" font-size="7.9" text-anchor="middle" letter-spacing="-0.3">31</text>
<text x="396.5" y="562.5" font-size="7.9" text-anchor="middle" letter-spacing="-0.3">30</text>
<text x="407.4" y="562.5" font-size="7.9" text-anchor="middle" letter-spacing="-0.3">29</text>
<text x="418.3" y="562.5" font-size="7.9" text-anchor="middle" letter-spacing="-0.3">28</text>
<text x="429.2" y="562.5" font-size="7.9" text-anchor="middle" letter-spacing="-0.3">27</text>
<text x="440.1" y="562.5" font-size="7.9" text-anchor="middle" letter-spacing="-0.3">26</text>
<text x="451.0" y="562.5" font-size="7.9" text-anchor="middle" letter-spacing="-0.3">25</text>
<text x="461.9" y="562.5" font-size="7.9" text-anchor="middle" letter-spacing="-0.3">24</text>
<text x="472.8" y="562.5" font-size="7.9" text-anchor="middle" letter-spacing="-0.3">23</text>
<text x="483.7" y="562.5" font-size="7.9" text-anchor="middle" letter-spacing="-0.3">22</text>
<text x="494.6" y="562.5" font-size="7.9" text-anchor="middle" letter-spacing="-0.3">21</text>
<text x="505.5" y="562.5" font-size="7.9" text-anchor="middle" letter-spacing="-0.3">20</text>
<text x="516.4" y="562.5" font-size="7.9" text-anchor="middle" letter-spacing="-0.3">19</text>
<text x="527.3" y="562.5" font-size="7.9" text-anchor="middle" letter-spacing="-0.3">18</text>
<text x="538.2" y="562.5" font-size="7.9" text-anchor="middle" letter-spacing="-0.3">17</text>
<text x="549.1" y="562.5" font-size="7.9" text-anchor="middle" letter-spacing="-0.3">16</text>
<text x="396.5" y="572.6" font-size="7.9" text-anchor="middle" letter-spacing="-0.3">15</text>
<text x="407.4" y="572.6" font-size="7.9" text-anchor="middle" letter-spacing="-0.3">14</text>
<text x="418.3" y="572.6" font-size="7.9" text-anchor="middle" letter-spacing="-0.3">13</text>
<text x="429.2" y="572.6" font-size="7.9" text-anchor="middle" letter-spacing="-0.3">12</text>
<text x="440.1" y="572.6" font-size="7.9" text-anchor="middle" letter-spacing="-0.3">11</text>
<text x="451.0" y="572.6" font-size="7.9" text-anchor="middle" letter-spacing="-0.3">10</text>
<text x="462.05" y="572.6" font-size="7.9" text-anchor="middle">9</text>
<text x="472.95" y="572.6" font-size="7.9" text-anchor="middle">8</text>
<text x="483.85" y="572.6" font-size="7.9" text-anchor="middle">7</text>
<text x="494.75" y="572.6" font-size="7.9" text-anchor="middle">6</text>
<text x="505.65" y="572.6" font-size="7.9" text-anchor="middle">5</text>
<text x="516.55" y="572.6" font-size="7.9" text-anchor="middle">4</text>
<text x="527.45" y="572.6" font-size="7.9" text-anchor="middle">3</text>
<text x="538.35" y="572.6" font-size="7.9" text-anchor="middle">2</text>
<text x="549.25" y="572.6" font-size="7.9" text-anchor="middle">1</text>
<rect x="394.50" y="545.20" width="37.60" height="5.20" fill="#fff" stroke="#222" stroke-width="1.05" rx="1"/>
<rect x="454.50" y="545.20" width="38.20" height="5.20" fill="#fff" stroke="#222" stroke-width="1.05" rx="1"/>
<rect x="513.60" y="545.20" width="38.10" height="5.20" fill="#fff" stroke="#222" stroke-width="1.05" rx="1"/>
<rect x="576.90" y="494.30" width="4.60" height="106.80" fill="none" stroke="#333" stroke-width="1"/>
<path d="M581.5,510.2 L607.7,520.5 M581.5,585.5 L607.7,575.2 M607.7,520.5 V575.2 M607.7,520.5 L611.5,519.4 V527.7 H624.6 V519.4 H632.7 V575.9 H624.6 V567.6 H611.5 V575.9 L607.7,575.2" fill="none" stroke="#333" stroke-width="0.85"/>
<text x="482.4" y="612.8" font-size="10.6" font-weight="bold" text-anchor="middle">C500-A</text>
<text x="482.4" y="624.8" font-size="10.6" font-weight="bold" text-anchor="middle">ECM</text>
</svg>
</body></html>
